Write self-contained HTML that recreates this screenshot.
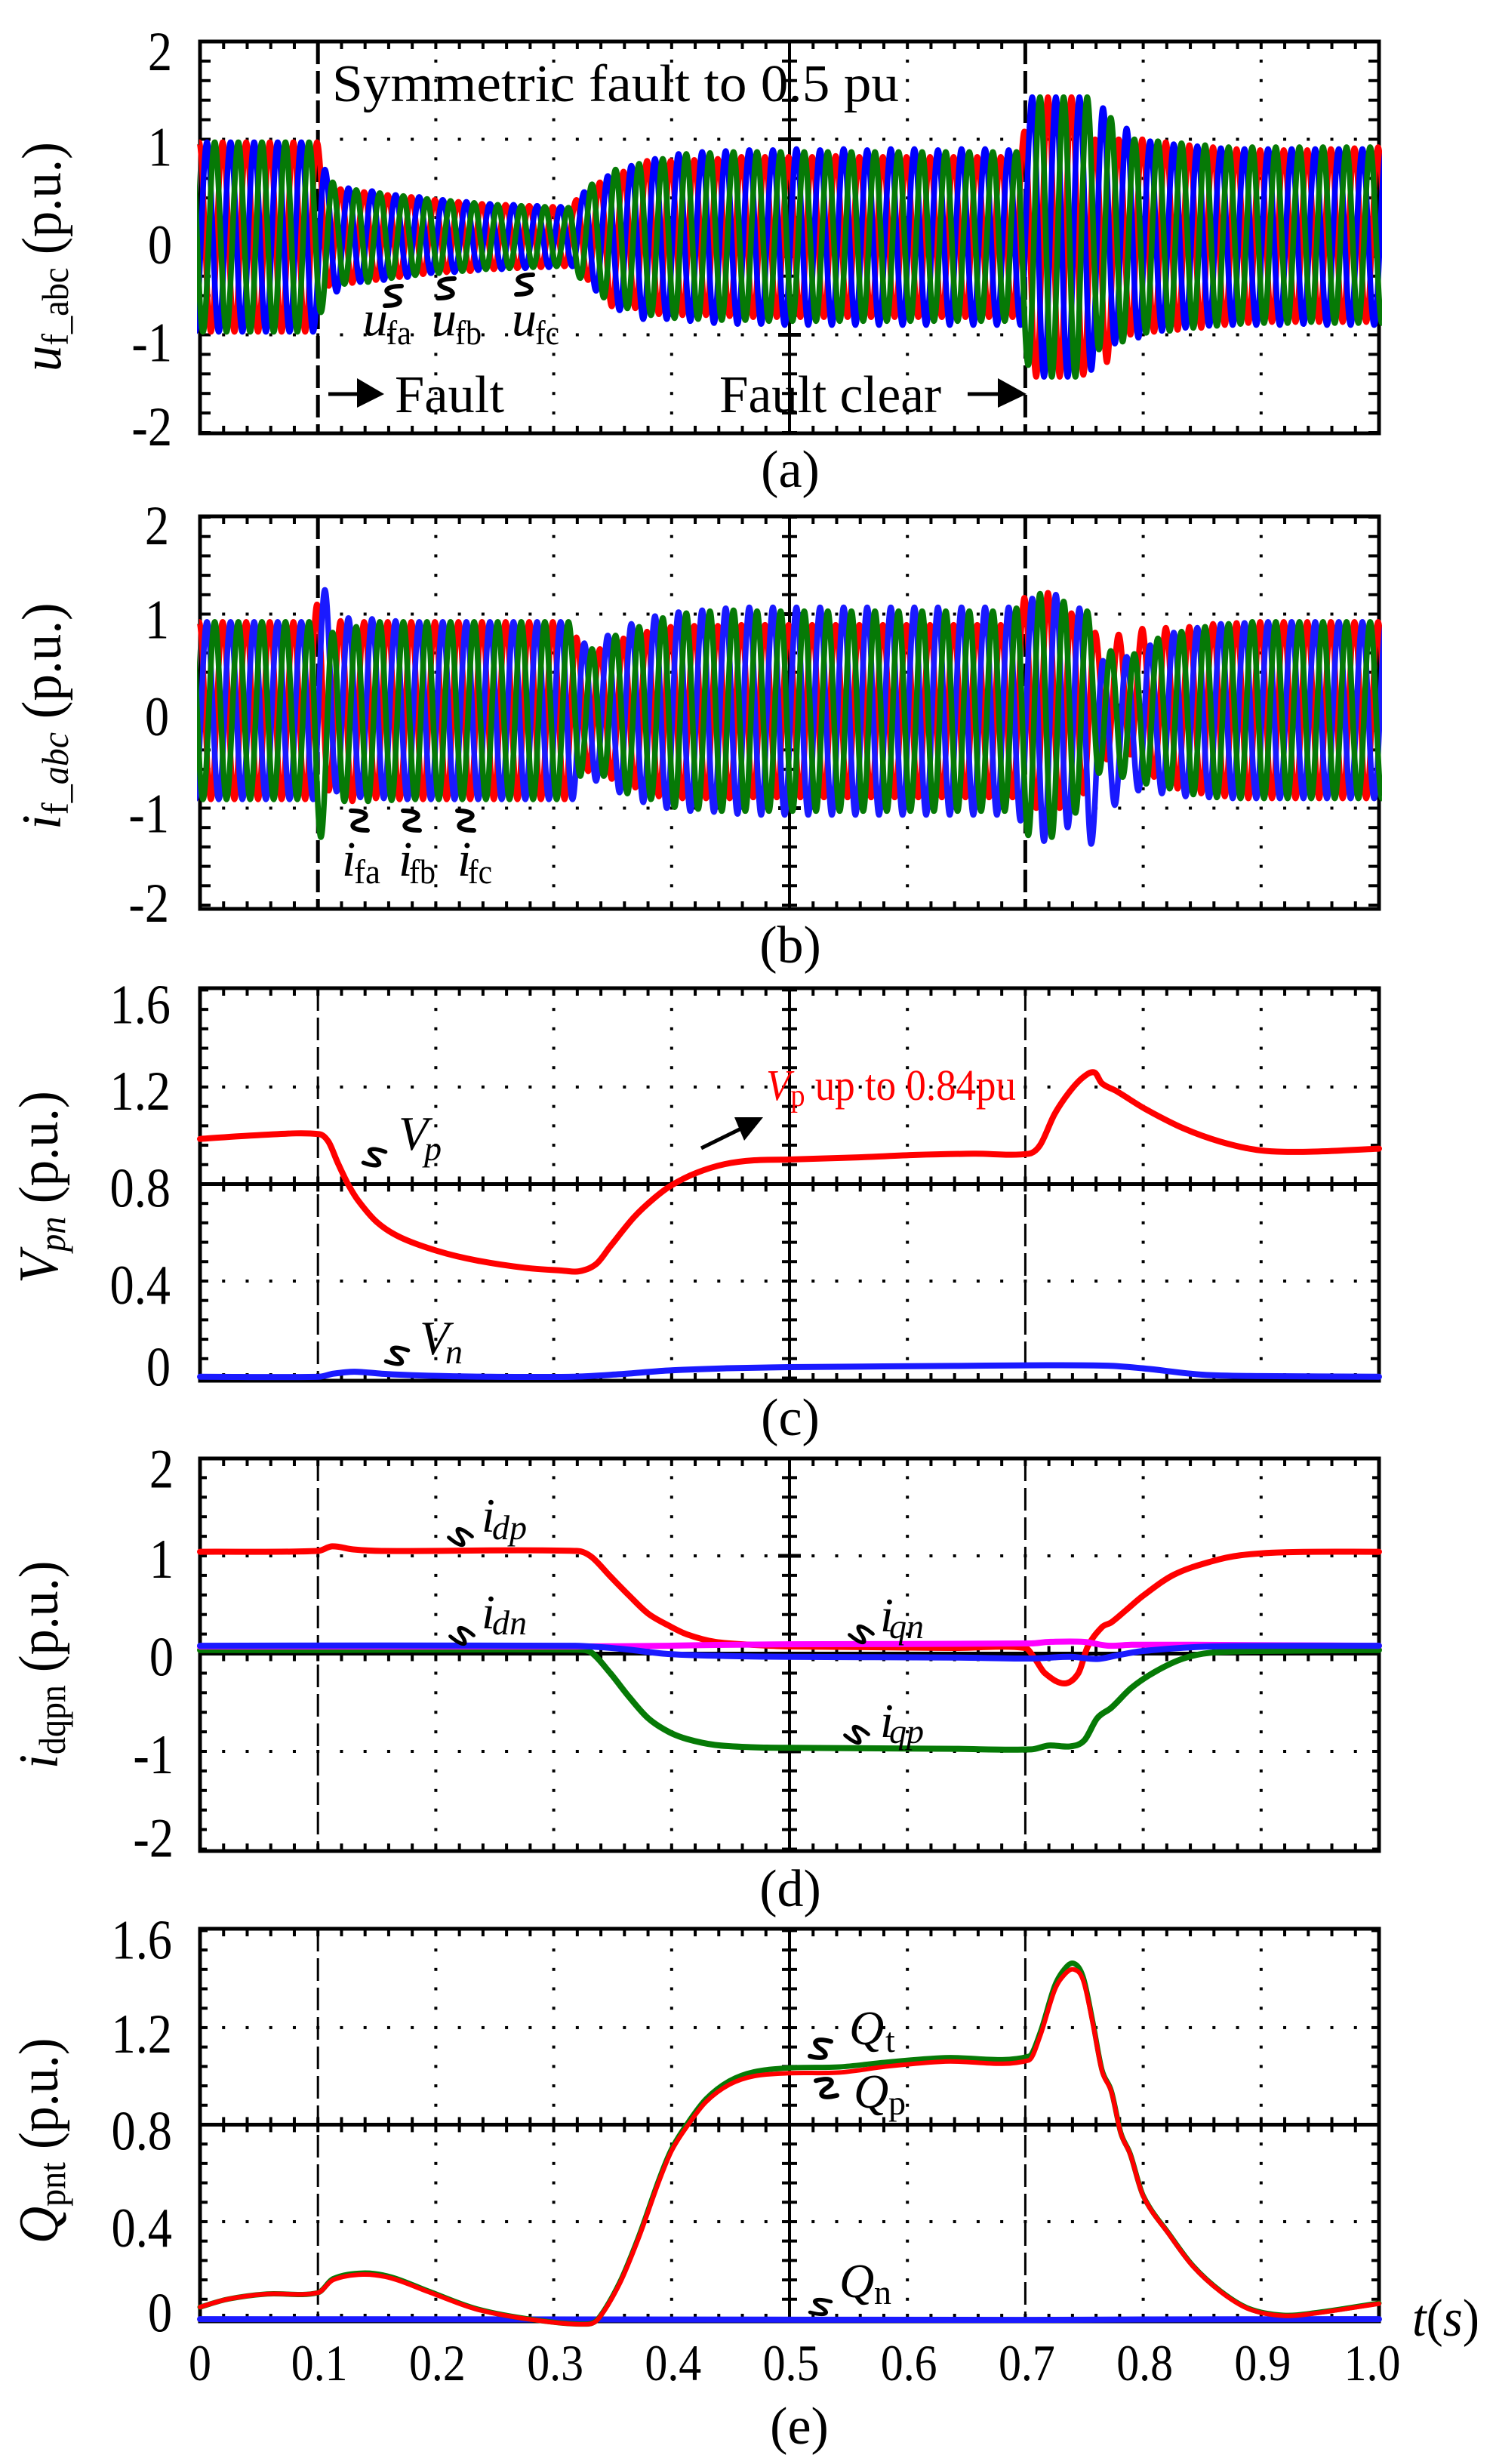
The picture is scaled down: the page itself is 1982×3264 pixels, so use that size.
<!DOCTYPE html>
<html lang="en">
<head>
<meta charset="utf-8">
<title>Symmetric fault to 0.5 pu waveforms</title>
<style>
html,body{margin:0;padding:0;background:#fff;}
svg{display:block;}
text{font-family:"Liberation Serif","DejaVu Serif",serif;fill:#000;}
.it{font-style:italic;}
</style>
</head>
<body>
<svg id="fig" xmlns="http://www.w3.org/2000/svg" width="1982" height="3264" viewBox="0 0 1982 3264">
<rect x="0" y="0" width="1982" height="3264" fill="#fff"/>
<defs><clipPath id="plotClip"><rect x="261" y="0" width="1570" height="3264"/></clipPath></defs>

<g id="panel-a"></g>
<g id="panel-b"></g>
<g id="panel-c"></g>
<g id="panel-d"></g>
<g id="panel-e"></g>
<g id="squiggles"></g>

<!-- y axis titles -->
<text transform="translate(80,492) rotate(-90) scale(.93,1)" font-size="74"><tspan class="it">u</tspan><tspan font-size="50" dy="10">f_abc</tspan><tspan dy="-10"> (p.u.)</tspan></text>
<text transform="translate(80,1099) rotate(-90) scale(.96,1)" font-size="74"><tspan class="it">i</tspan><tspan font-size="50" dy="10">f_</tspan><tspan font-size="50" class="it">abc</tspan><tspan dy="-10"> (p.u.)</tspan></text>
<text transform="translate(76,1700) rotate(-90) scale(.93,1)" font-size="74"><tspan class="it">V</tspan><tspan font-size="50" class="it" dy="10">pn</tspan><tspan dy="-10"> (p.u.)</tspan></text>
<text transform="translate(76,2343) rotate(-90) scale(.92,1)" font-size="74"><tspan class="it">i</tspan><tspan font-size="50" dy="10">dqpn</tspan><tspan dy="-10"> (p.u.)</tspan></text>
<text transform="translate(76,2972) rotate(-90) scale(.92,1)" font-size="74"><tspan class="it">Q</tspan><tspan font-size="50" dy="10">pnt</tspan><tspan dy="-10"> (p.u.)</tspan></text>

<!-- panel a annotations -->
<text x="440" y="134" font-size="70" textLength="751" lengthAdjust="spacingAndGlyphs">Symmetric fault to 0.5 pu</text>
<g><line x1="435" y1="522" x2="480" y2="522" stroke="#000" stroke-width="5"/><polygon points="473,501 509,522 473,540" fill="#000"/></g>
<text x="523" y="546" font-size="70" textLength="145" lengthAdjust="spacingAndGlyphs">Fault</text>
<text x="953" y="546" font-size="70" textLength="294" lengthAdjust="spacingAndGlyphs">Fault clear</text>
<g><line x1="1282" y1="522" x2="1330" y2="522" stroke="#000" stroke-width="5"/><polygon points="1322,501 1360,522 1322,540" fill="#000"/></g>
<text x="481" y="444" font-size="66" class="it">u</text><text x="512" y="456" font-size="46" textLength="33" lengthAdjust="spacingAndGlyphs">fa</text>
<text x="572" y="444" font-size="66" class="it">u</text><text x="603" y="456" font-size="46" textLength="35" lengthAdjust="spacingAndGlyphs">fb</text>
<text x="678" y="444" font-size="66" class="it">u</text><text x="709" y="456" font-size="46" textLength="32" lengthAdjust="spacingAndGlyphs">fc</text>
<text x="1047" y="645" font-size="70" text-anchor="middle">(a)</text>

<!-- panel b annotations -->
<text x="453" y="1160" font-size="66" class="it">i</text><text x="469" y="1170" font-size="46" textLength="35" lengthAdjust="spacingAndGlyphs">fa</text>
<text x="528" y="1160" font-size="66" class="it">i</text><text x="542" y="1170" font-size="46" textLength="35" lengthAdjust="spacingAndGlyphs">fb</text>
<text x="606" y="1160" font-size="66" class="it">i</text><text x="620" y="1170" font-size="46" textLength="32" lengthAdjust="spacingAndGlyphs">fc</text>
<text x="1047" y="1275" font-size="70" text-anchor="middle">(b)</text>

<!-- panel c annotations -->
<text x="528" y="1523" font-size="64" class="it">V</text><text x="562" y="1537" font-size="46" class="it">p</text>
<text x="556" y="1794" font-size="64" class="it">V</text><text x="590" y="1806" font-size="46" class="it">n</text>
<text x="1015" y="1457" font-size="58" style="fill:#f00" textLength="331" lengthAdjust="spacingAndGlyphs"><tspan class="it" style="fill:#f00">V</tspan><tspan font-size="42" dy="8" style="fill:#f00">p</tspan><tspan dy="-8" style="fill:#f00"> up to 0.84pu</tspan></text>
<g><line x1="929" y1="1521" x2="990" y2="1491" stroke="#000" stroke-width="5"/><polygon points="1011,1480 973,1480 986,1511" fill="#000"/></g>
<text x="1047" y="1901" font-size="70" text-anchor="middle">(c)</text>

<!-- panel d annotations -->
<text x="638" y="2029" font-size="64" class="it">i</text><text x="652" y="2039" font-size="46" class="it">dp</text>
<text x="638" y="2157" font-size="64" class="it">i</text><text x="652" y="2165" font-size="46" class="it">dn</text>
<text x="1166" y="2161" font-size="64" class="it">i</text><text x="1178" y="2170" font-size="46" class="it">qn</text>
<text x="1166" y="2301" font-size="64" class="it">i</text><text x="1178" y="2309" font-size="46" class="it">qp</text>
<text x="1047" y="2525" font-size="70" text-anchor="middle">(d)</text>

<!-- panel e annotations -->
<text x="1125" y="2708" font-size="64" class="it">Q</text><text x="1173" y="2718" font-size="46">t</text>
<text x="1131" y="2792" font-size="64" class="it">Q</text><text x="1177" y="2801" font-size="46">p</text>
<text x="1112" y="3043" font-size="64" class="it">Q</text><text x="1158" y="3052" font-size="46">n</text>
<text x="1871" y="3094" font-size="70" textLength="89" lengthAdjust="spacingAndGlyphs"><tspan class="it">t</tspan>(<tspan class="it">s</tspan>)</text>
<text x="1059" y="3237" font-size="70" text-anchor="middle">(e)</text>
</svg>

<script>
/* ---------- axis tick labels ---------- */
var xTickLabels = ['0','0.1','0.2','0.3','0.4','0.5','0.6','0.7','0.8','0.9','1.0'];
var xTickValues = [0,0.1,0.2,0.3,0.4,0.5,0.6,0.7,0.8,0.9,1.0];
var yTicksWide = [2,1,0,-1,-2];
var yTicksWideLabels = ['2','1','0','-1','-2'];
var yTicksPos = [1.6,1.2,0.8,0.4,0];
var yTicksPosLabels = ['1.6','1.2','0.8','0.4','0'];

/* ---------- panel (a): half-cycle extreme values per phase (one row = 0.1 s) ---------- */
var uStartA = -0.0008, uStartB = -0.0041, uStartC = -0.0075;
var ufa = [
.97,-.97,.97,-.97,.97,-.97,.97,-.97,.97,-.97,
.97,-.5,.49,-.47,.46,-.44,.43,-.41,.41,-.38,
.38,-.36,.36,-.35,.34,-.33,.33,-.32,.32,-.31,
.31,-.3,.38,-.44,.56,-.71,.67,-.73,.78,-.79,
.78,-.8,.79,-.8,.8,-.81,.82,-.82,.82,-.82,
.82,-.82,.82,-.82,.83,-.82,.82,-.82,.82,-.82,
.82,-.82,.82,-.82,.82,-.82,.82,-.82,.82,-.82,
1.08,-1.43,1.43,-1.43,1.43,-1.41,1.0,-1.28,1.0,-1.0,
1.0,-.97,.97,-.95,.94,-.93,.92,-.9,.9,-.88,
.89,-.87,.89,-.87,.89,-.87,.9,-.87,.91,-.87,
.92,-.87];
var ufb = [
-.97,.97,-.97,.97,-.97,.97,-.97,.97,-.97,.97,
-.97,.69,-.56,.5,-.46,.47,-.44,.43,-.41,.41,
-.37,.38,-.36,.36,-.34,.34,-.33,.33,-.32,.32,
-.31,.31,-.3,.46,-.55,.625,-.75,.73,-.84,.8,
-.84,.85,-.86,.87,-.88,.88,-.89,.89,-.89,.89,
-.9,.9,-.9,.89,-.9,.9,-.9,.89,-.9,.9,
-.9,.9,-.9,.89,-.9,.9,-.9,.9,-.9,.89,
-.9,1.43,-1.43,1.43,-1.43,1.43,-1.36,1.32,-1.09,1.11,
-1.03,.98,-.96,.95,-.93,.93,-.91,.91,-.9,.9,
-.9,.9,-.9,.9,-.89,.9,-.9,.9,-.9,.9,
-.9,.9];
var ufc = [
.97,-.97,.97,-.97,.97,-.97,.97,-.97,.97,-.97,
.97,-.77,.56,-.48,.48,-.46,.45,-.42,.42,-.39,
.39,-.37,.37,-.35,.35,-.33,.33,-.32,.32,-.31,
.31,-.3,.3,-.42,.54,-.62,.69,-.73,.75,-.8,
.8,-.83,.85,-.84,.86,-.85,.87,-.85,.87,-.86,
.87,-.86,.87,-.86,.87,-.86,.87,-.86,.87,-.86,
.87,-.86,.87,-.86,.87,-.86,.87,-.86,.87,-.86,
.87,-1.31,1.43,-1.43,1.43,-1.43,1.43,-1.15,1.22,-1.07,
1.0,-.98,.98,-.96,.96,-.93,.94,-.91,.92,-.89,
.92,-.88,.92,-.88,.92,-.87,.92,-.88,.92,-.88,
.92,-.88];

/* ---------- panel (b): half-cycle extreme values per phase ---------- */
var ifa = [
.92,-.91,.92,-.91,.92,-.91,.92,-.91,.92,-.91,
1.1,-.82,.93,-.93,.92,-.9,.92,-.91,.92,-.91,
.92,-.91,.92,-.91,.92,-.91,.92,-.91,.92,-.91,
.92,-.91,.76,-.62,.64,-.7,.75,-.79,.82,-.88,
.87,-.9,.88,-.9,.88,-.9,.89,-.89,.89,-.89,
.89,-.89,.89,-.89,.89,-.89,.89,-.89,.89,-.89,
.89,-.89,.89,-.89,.89,-.89,.89,-.89,.89,-.89,
1.17,-1.0,1.22,-1.0,1.01,-.85,.81,-.5,.79,-.45,
.85,-.68,.86,-.8,.87,-.85,.9,-.88,.91,-.9,
.92,-.9,.92,-.9,.92,-.9,.92,-.9,.92,-.9,
.92,-.9];
var ifb = [
-.91,.92,-.91,.92,-.91,.92,-.91,.92,-.91,.92,
-.91,1.25,-.83,.96,-.89,.95,-.9,.93,-.91,.92,
-.91,.92,-.91,.92,-.91,.92,-.91,.92,-.91,.92,
-.91,.92,-.91,.7,-.72,.78,-.84,.9,-.94,.98,
-1.0,1.02,-1.03,1.04,-1.04,1.06,-1.06,1.07,-1.07,1.07,
-1.07,1.07,-1.07,1.07,-1.07,1.07,-1.07,1.07,-1.07,1.07,
-1.07,1.07,-1.07,1.07,-1.07,1.07,-1.07,1.07,-1.07,1.07,
-1.13,1.16,-1.34,1.2,-1.2,1.06,-1.37,.52,-.97,.56,
-.82,.68,-.85,.81,-.88,.86,-.89,.9,-.9,.91,
-.9,.92,-.9,.92,-.9,.92,-.9,.92,-.9,.92,
-.9,.92];
var ifc = [
.92,-.91,.92,-.91,.92,-.91,.92,-.91,.92,-.91,
.92,-1.3,.81,-.93,.87,-.93,.92,-.92,.92,-.91,
.92,-.91,.92,-.91,.92,-.91,.92,-.91,.92,-.91,
.92,-.91,.92,-.67,.64,-.67,.78,-.85,.87,-.91,
.96,-.99,1.01,-1.01,1.03,-1.03,1.04,-1.03,1.03,-1.03,
1.03,-1.03,1.03,-1.03,1.03,-1.03,1.03,-1.03,1.03,-1.03,
1.03,-1.03,1.03,-1.03,1.03,-1.03,1.03,-1.03,1.03,-1.03,
1.06,-1.28,1.21,-1.3,1.13,-1.05,1.03,-.64,.62,-.68,
.59,-.75,.75,-.8,.82,-.86,.87,-.89,.9,-.9,
.92,-.9,.92,-.9,.92,-.9,.92,-.9,.92,-.9,
.92,-.9];

/* ---------- panel (c) ---------- */
var tVp = [0,.049,.101,.109,.117,.1255,.134,.15,.17,.2024,.235,.275,.308,.3215,.336,.348,.368,.3846,.4,.421,.445,.47,.4996,.5587,.607,.656,.703,.7126,.7247,.737,.749,.7587,.765,.777,.8016,.834,.866,.899,.939,1];
var vVp = [.986,1.0015,1.006,.974,.885,.8,.733,.643,.58,.5225,.4845,.455,.443,.44,.47,.543,.6625,.739,.795,.846,.882,.898,.901,.91,.92,.925,.925,.961,1.087,1.177,1.24,1.26,1.215,1.184,1.11,1.03,.974,.939,.933,.946];
var tVn = [0,.101,.113,.131,.154,.186,.235,.316,.356,.397,.445,.4996,.64,.703,.77,.8,.85,.9,1];
var vVn = [.0056,.0056,.018,.026,.018,.011,.006,.0056,.016,.031,.04,.045,.05,.0525,.051,.04,.014,.008,.0056];

/* ---------- panel (d) ---------- */
var tIdp = [0,.1,.112,.13,.154,.32,.332,.348,.364,.38,.397,.413,.437,.47,.5,.64,.7,.708,.7166,.733,.745,.753,.765,.773,.785,.8,.826,.858,.883,.923,1];
var vIdp = [1.042,1.05,1.097,1.066,1.05,1.05,.99,.79,.593,.41,.29,.197,.12,.089,.073,.058,.058,-.05,-.2,-.305,-.2,.073,.27,.32,.44,.593,.807,.944,1.007,1.038,1.042];
var tIqp = [0,.1,.32,.332,.348,.364,.38,.397,.413,.437,.47,.5,.64,.705,.72,.738,.75,.761,.773,.79,.81,.834,.858,.9,1];
var vIqp = [.037,.037,.04,.01,-.2,-.444,-.66,-.797,-.873,-.934,-.958,-.964,-.974,-.98,-.94,-.949,-.888,-.66,-.553,-.35,-.186,-.05,.01,.027,.037];
var tIqn = [0,.316,.397,.437,.5,.705,.72,.75,.77,.79,.842,.92,1];
var vIqn = [.073,.073,.08,.089,.096,.104,.12,.12,.081,.09,.09,.085,.08];
var tIdn = [0,.316,.356,.397,.445,.5,.64,.705,.738,.761,.778,.8,.858,1];
var vIdn = [.08,.08,.05,-.004,-.024,-.033,-.04,-.05,-.033,-.055,-.018,.027,.073,.08];

/* ---------- panel (e) ---------- */
var tQ = [0,.024,.057,.1,.113,.138,.162,.194,.235,.283,.328,.338,.356,.372,.389,.4,.413,.429,.449,.47,.5,.5425,.583,.632,.703,.7126,.7247,.733,.741,.749,.757,.765,.773,.781,.789,.8,.822,.842,.866,.89,.919,.947,1];
var vQp = [.048,.081,.102,.107,.16,.182,.167,.11,.038,-.005,-.023,0,.145,.332,.562,.692,.792,.893,.965,1.0,1.012,1.015,1.04,1.06,1.065,1.166,1.352,1.417,1.44,1.396,1.223,1.022,.935,.764,.677,.505,.347,.217,.11,.039,.012,.023,.062];
var vQt = [.048,.081,.102,.107,.165,.188,.172,.113,.04,-.004,-.022,.002,.15,.338,.57,.7,.802,.905,.98,1.018,1.034,1.038,1.058,1.076,1.082,1.18,1.37,1.44,1.465,1.41,1.23,1.026,.938,.766,.679,.507,.349,.219,.112,.041,.014,.025,.064];
var tQn = [0,.33,.7,.8,1];
var vQn = [-.002,-.003,-.005,-.003,-.002];

/* ---------- axis functions ---------- */
function xT(t){ return 265 + 1562*t; }
function yA(v){ return 314 - 129.5*v; }
function yB(v){ return 942 - 128.5*v; }
function yC(v){ return 1825.5 - 321.3*v; }
function yD(v){ return 2190.5 - 129.5*v; }
function yE(v){ return 3071.5 - 321.3*v; }

var NS = 'http://www.w3.org/2000/svg';
function shape(parent, tag, name, props){
  var el = document.createElementNS(NS, tag);
  for (var k in props) el.setAttribute(k, props[k]);
  
  
  parent.appendChild(el);
  return el;
}
function hline(g,name,x1,x2,y,w){ return shape(g,'line',name,{x1:x1,x2:x2,y1:y,y2:y,stroke:'#000','stroke-width':w}); }
function vline(g,name,x,y1,y2,w){ return shape(g,'line',name,{x1:x,x2:x,y1:y1,y2:y2,stroke:'#000','stroke-width':w}); }

function axes(g, o){
  var i, t, n = Math.round((o.vmax - o.vmin)/o.step);
  var yVals = [];
  for (i = 0; i <= n; i++) yVals.push(o.vmax - i*o.step);
  /* x ticks */
  for (i = 0; i <= 50; i++){
    t = i/50;
    vline(g,'x-tick',xT(t),o.top,o.top+10,4);
    vline(g,'x-tick',xT(t),o.bottom-10,o.bottom,4);
    if (o.mid !== null) vline(g,'mid-line-tick',xT(t),o.y(o.mid)-o.midTick,o.y(o.mid)+o.midTick,4);
  }
  /* y ticks */
  yVals.forEach(function(v){
    hline(g,'y-tick',265,265+o.tick,o.y(v),4);
    hline(g,'y-tick',1827-o.tick,1827,o.y(v),4);
  });
  /* dotted grid */
  [.2,.3,.4,.6,.8,.9].forEach(function(t){
    yVals.forEach(function(v){
      shape(g,'rect','grid-dot',{x:xT(t)-2,y:o.y(v)-2,width:4,height:4,fill:'#000'});
    });
  });
  o.grid.forEach(function(v){
    for (var j = 1; j < 50; j++){
      shape(g,'rect','grid-dot',{x:xT(j/50)-2,y:o.y(v)-2,width:4,height:4,fill:'#000'});
    }
  });
  /* event markers */
  [.1,.7].forEach(function(t){
    var l = vline(g,'event-marker',xT(t),o.top,o.bottom,o.dashW);
    l.setAttribute('stroke-dasharray','30 9');
  });
  /* centre axis */
  vline(g,'center-axis',xT(.5),o.top,o.bottom,4);
  yVals.forEach(function(v){
    var major = o.grid.indexOf(v) >= 0;
    hline(g,'center-axis-tick',xT(.5)-(major?15:10),xT(.5)+(major?15:10),o.y(v),major?5:4);
  });
  if (o.midLine) hline(g,'mid-line',265,1827,o.y(o.mid),5);
  /* frame */
  shape(g,'rect','plot-frame',{x:265,y:o.top,width:1562,height:o.bottom-o.top,fill:'none',stroke:'#000','stroke-width':o.frameW});
}

function yTickText(g, vals, labels, y, right, offTop, offMid, offBot){
  vals.forEach(function(v,i){
    var off = i === 0 ? offTop : (i === vals.length-1 ? offBot : offMid);
    var el = shape(g,'text','y-tick-label',{'font-size':74,'text-anchor':'end',
      transform:'translate('+right+','+(y(v)+off)+') scale(.87,1)'});
    el.textContent = labels[i];
  });
}

/* A waveform drawn through its read half-cycle extremes, with horizontal tangents at each extreme */
function waveform(g, name, extremes, start, y, color){
  var dt = 0.01, d = '', k = 0.3642*dt;
  extremes.forEach(function(v,i){
    var t = start + i*dt;
    if (i === 0) { d = 'M' + xT(t).toFixed(1) + ' ' + y(v).toFixed(1); return; }
    var p = extremes[i-1], tp = t - dt;
    d += 'C' + xT(tp+k).toFixed(1) + ' ' + y(p).toFixed(1) + ' ' + xT(t-k).toFixed(1) + ' ' + y(v).toFixed(1) + ' ' + xT(t).toFixed(1) + ' ' + y(v).toFixed(1);
  });
  shape(g,'path',name,{d:d,fill:'none',stroke:color,'stroke-width':7.5,'stroke-linejoin':'round','clip-path':'url(#plotClip)'});
}

/* Smooth curve through the read points (Hermite tangents from neighbouring points) */
function series(g, name, ts, vs, y, color, w){
  var px = ts.map(xT), py = vs.map(y), n = px.length;
  function slope(i){
    var a = Math.max(i-1,0), b = Math.min(i+1,n-1);
    return (py[b]-py[a])/(px[b]-px[a]);
  }
  var d = 'M' + px[0].toFixed(1) + ' ' + py[0].toFixed(1);
  for (var i = 1; i < n; i++){
    var h = (px[i]-px[i-1])/3;
    d += 'C' + (px[i-1]+h).toFixed(1) + ' ' + (py[i-1]+slope(i-1)*h).toFixed(1) + ' ' +
         (px[i]-h).toFixed(1) + ' ' + (py[i]-slope(i)*h).toFixed(1) + ' ' +
         px[i].toFixed(1) + ' ' + py[i].toFixed(1);
  }
  shape(g,'path',name,{d:d,fill:'none',stroke:color,'stroke-width':w,'stroke-linejoin':'round','stroke-linecap':'round'});
}

var RED='#ff0000', BLUE='#1a1aff', GREEN='#067a06', MAG='#ff00ff';

/* Panel a */
var ga = document.getElementById('panel-a');
axes(ga,{y:yA,top:55,bottom:574,vmax:2,vmin:-2,step:.2,grid:[1,-1],mid:0,midTick:10,midLine:false,tick:14,dashW:5,frameW:5});
waveform(ga,'ufa-line',ufa,uStartA,yA,RED);
waveform(ga,'ufb-line',ufb,uStartB,yA,'#0000ff');
waveform(ga,'ufc-line',ufc,uStartC,yA,GREEN);
yTickText(ga,yTicksWide,yTicksWideLabels,yA,228,38,35,17);

/* Panel b */
var gb = document.getElementById('panel-b');
axes(gb,{y:yB,top:684,bottom:1204,vmax:2,vmin:-2,step:.2,grid:[1,-1],mid:0,midTick:10,midLine:false,tick:14,dashW:5,frameW:5});
waveform(gb,'ifa-line',ifa,uStartA,yB,RED);
waveform(gb,'ifb-line',ifb,uStartB,yB,BLUE);
waveform(gb,'ifc-line',ifc,uStartC,yB,GREEN);
yTickText(gb,yTicksWide,yTicksWideLabels,yB,224,36,32,22);

/* Panel c */
var gc = document.getElementById('panel-c');
axes(gc,{y:yC,top:1309,bottom:1829,vmax:1.6,vmin:0,step:.08,grid:[1.2,.4],mid:.8,midTick:10,midLine:true,tick:11,dashW:3,frameW:5});
series(gc,'vp-line',tVp,vVp,yC,RED,8);
series(gc,'vn-line',tVn,vVn,yC,BLUE,8);
yTickText(gc,yTicksPos,yTicksPosLabels,yC,226,44,30,10);

/* Panel d */
var gd = document.getElementById('panel-d');
axes(gd,{y:yD,top:1932,bottom:2452,vmax:2,vmin:-2,step:.2,grid:[1,-1],mid:0,midTick:10,midLine:true,tick:9,dashW:3,frameW:5});
series(gd,'iqp-line',tIqp,vIqp,yD,GREEN,8);
series(gd,'idp-line',tIdp,vIdp,yD,RED,8);
series(gd,'iqn-line',tIqn,vIqn,yD,MAG,8);
series(gd,'idn-line',tIdn,vIdn,yD,BLUE,8);
yTickText(gd,yTicksWide,yTicksWideLabels,yD,230,39,29,10);

/* Panel e */
var ge = document.getElementById('panel-e');
axes(ge,{y:yE,top:2555,bottom:3075,vmax:1.6,vmin:0,step:.08,grid:[1.2,.4],mid:.8,midTick:10,midLine:true,tick:10,dashW:3,frameW:5});
series(ge,'qn-line',tQn,vQn,yE,BLUE,8);
series(ge,'qt-line',tQ,vQt,yE,GREEN,7);
series(ge,'qp-line',tQ,vQp,yE,RED,6);
yTickText(ge,yTicksPos,yTicksPosLabels,yE,228,37,33,17);
xTickValues.forEach(function(t,i){
  var cx = xT(t) + (i === 10 ? -9 : (i === 0 ? 0 : 2));
  var el = shape(ge,'text','x-tick-label',{'font-size':68,'text-anchor':'middle',
    transform:'translate('+cx+',3153) scale(.88,1)'});
  el.textContent = xTickLabels[i];
});

/* Leader squiggles */
var sq = document.getElementById('squiggles');
function squiggle(cx, cy, sx, sy, rot){
  shape(sq,'path','leader-squiggle',{
    d:'M-11,-13C13,-13 13,-4 0,0C-13,4 -13,13 11,13',
    fill:'none',stroke:'#000','stroke-width':6,'stroke-linecap':'round',
    transform:'translate('+cx+','+cy+') rotate('+rot+') scale('+sx+','+sy+')'
  });
}
squiggle(521,392,-1,1,0); squiggle(591,382,-1,1,0); squiggle(695,377,-1,1,0);
squiggle(476,1087,1,1,0); squiggle(545,1087,1,1,0); squiggle(617,1087,1,1,0);
squiggle(496,1533,-1,.9,20); squiggle(526,1796,-1,.9,20);
squiggle(610,2036,-1,.8,40); squiggle(612,2167,-1,.8,40); squiggle(1141,2165,-1,.8,40); squiggle(1135,2298,-1,.8,40);
squiggle(1087,2714,-1,1,15); squiggle(1095,2766,1,1,-15); squiggle(1087,3056,-1,.8,15);
</script>
</body>
</html>
